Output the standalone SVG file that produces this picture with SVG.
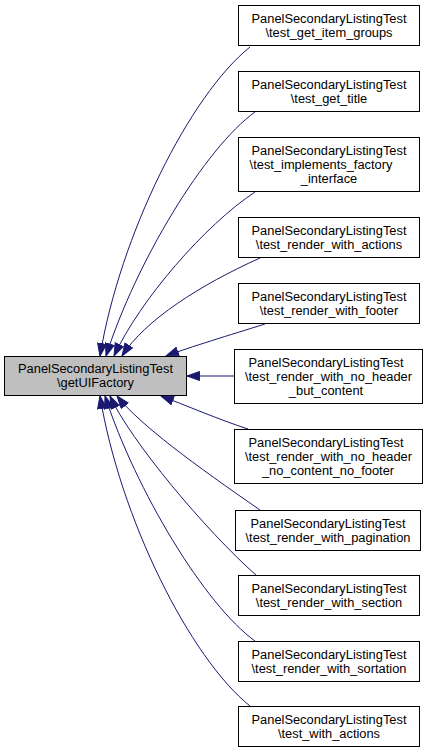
<svg xmlns="http://www.w3.org/2000/svg" width="429" height="752" viewBox="0 0 429 752">
<style>
.n rect{fill:#ffffff;stroke:#000000;stroke-width:1}
.main rect{fill:#bfbfbf;stroke:#000000;stroke-width:1}
text{font-family:"Liberation Sans",Arial,Helvetica,sans-serif;font-size:12.85px;fill:#000000;text-anchor:middle}
.e path{fill:none;stroke:#191970;stroke-width:1;marker-end:url(#ah)}
</style>
<defs>
<marker id="ah" markerUnits="userSpaceOnUse" markerWidth="14" markerHeight="11" refX="13" refY="5" orient="auto">
<path d="M0.5,0.5 L13,5 L0.5,9.5 z" fill="#191970" stroke="#191970" stroke-width="1"/>
</marker>
</defs>
<rect width="429" height="752" fill="#ffffff"/>
<g id="edges" class="e">
<path d="M250,47 C190,95 120,235 100,356"/>
<path d="M255,112 C205,148 136,262 106,356"/>
<path d="M255,192 C205,225 140,300 114,356"/>
<path d="M260,258 C200,285 145,320 122,356"/>
<path d="M265,324 C230,335 190,347 166,356"/>
<path d="M234,376 L187,376"/>
<path d="M248,429 C220,420 185,405 161,396"/>
<path d="M260,510 C195,465 140,425 117,396"/>
<path d="M257,576 C205,530 130,440 110,396"/>
<path d="M255,641 C205,605 136,491 105,396"/>
<path d="M250,706 C190,658 120,518 100,396"/>
</g>
<g id="main" class="main">
<rect x="4.5" y="356.5" width="182" height="39"/>
<text x="95.5" y="373">PanelSecondaryListingTest</text>
<text x="95.5" y="387">\getUIFactory</text>
</g>
<g id="n1" class="n">
<rect x="238.5" y="5.5" width="181" height="40"/>
<text x="329" y="23">PanelSecondaryListingTest</text>
<text x="329" y="37">\test_get_item_groups</text>
</g>
<g id="n2" class="n">
<rect x="238.5" y="71.5" width="181" height="40"/>
<text x="329" y="89">PanelSecondaryListingTest</text>
<text x="329" y="103">\test_get_title</text>
</g>
<g id="n3" class="n">
<rect x="238.5" y="137.5" width="181" height="54"/>
<text x="329" y="155">PanelSecondaryListingTest</text>
<text x="321" y="169">\test_implements_factory</text>
<text x="329" y="183">_interface</text>
</g>
<g id="n4" class="n">
<rect x="238.5" y="217.5" width="181" height="40"/>
<text x="329" y="235">PanelSecondaryListingTest</text>
<text x="329" y="249">\test_render_with_actions</text>
</g>
<g id="n5" class="n">
<rect x="238.5" y="283.5" width="181" height="40"/>
<text x="329" y="301">PanelSecondaryListingTest</text>
<text x="329" y="315">\test_render_with_footer</text>
</g>
<g id="n6" class="n">
<rect x="234.5" y="349.5" width="188" height="54"/>
<text x="326" y="367">PanelSecondaryListingTest</text>
<text x="328.5" y="381">\test_render_with_no_header</text>
<text x="326" y="395">_but_content</text>
</g>
<g id="n7" class="n">
<rect x="234.5" y="429.5" width="188" height="54"/>
<text x="326" y="447">PanelSecondaryListingTest</text>
<text x="328.5" y="461">\test_render_with_no_header</text>
<text x="328" y="475">_no_content_no_footer</text>
</g>
<g id="n8" class="n">
<rect x="235.5" y="510.5" width="185" height="40"/>
<text x="328" y="528">PanelSecondaryListingTest</text>
<text x="328" y="542">\test_render_with_pagination</text>
</g>
<g id="n9" class="n">
<rect x="238.5" y="575.5" width="181" height="40"/>
<text x="329" y="593">PanelSecondaryListingTest</text>
<text x="329" y="607">\test_render_with_section</text>
</g>
<g id="n10" class="n">
<rect x="238.5" y="641.5" width="181" height="40"/>
<text x="329" y="659">PanelSecondaryListingTest</text>
<text x="329" y="673">\test_render_with_sortation</text>
</g>
<g id="n11" class="n">
<rect x="238.5" y="706.5" width="181" height="40"/>
<text x="329" y="724">PanelSecondaryListingTest</text>
<text x="329" y="738">\test_with_actions</text>
</g>
</svg>
